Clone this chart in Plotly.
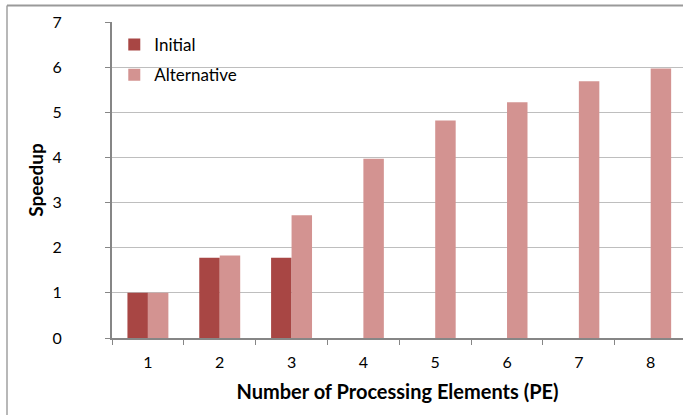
import plotly.graph_objects as go

categories = ["1", "2", "3", "4", "5", "6", "7", "8"]
initial = [1.0, 1.78, 1.78, None, None, None, None, None]
alternative = [1.0, 1.83, 2.72, 3.97, 4.82, 5.22, 5.69, 5.97]
y_ticks = [0, 1, 2, 3, 4, 5, 6, 7]

FONT = "Lato"
W, H = 683, 415
L, R, T, B = 112, 0, 22, 77

fig = go.Figure()
fig.add_trace(go.Bar(x=categories, y=initial, name="Initial",
                     marker=dict(color="#A84644", line=dict(width=0)),
                     legendgroup="a"))
fig.add_trace(go.Bar(x=categories, y=alternative, name="Alternative",
                     marker=dict(color="#D39391", line=dict(width=0)),
                     legendgroup="b"))

pw = W - L - R
ph = H - T - B
fig.update_layout(
    width=W, height=H,
    margin=dict(l=L, r=R, t=T, b=B, pad=0, autoexpand=False),
    paper_bgcolor="white", plot_bgcolor="white",
    font=dict(family=FONT, size=16, color="#000000"),
    barmode="group", bargap=0.43, bargroupgap=0,
    showlegend=True,
    legend=dict(x=0.004, y=0.984, xanchor="left", yanchor="top",
                font=dict(size=17, family=FONT), bgcolor="rgba(0,0,0,0)",
                traceorder="grouped", tracegroupgap=5,
                itemwidth=30),
    xaxis=dict(type="category", range=[-0.5, 7.45], automargin=False,
               showline=True, linecolor="#868686", linewidth=2,
               ticks="outside", tickson="boundaries", ticklen=5,
               tickcolor="#868686", tickwidth=1, ticklabelstandoff=9,
               showgrid=False, tickfont=dict(size=16),
               title=dict(text="<b>Number of Processing Elements (PE)</b>",
                          font=dict(size=20), standoff=15)),
    yaxis=dict(range=[0, 7], tickvals=y_ticks, automargin=False,
               showline=True, linecolor="#868686", linewidth=2,
               ticks="outside", ticklen=5, tickcolor="#868686",
               ticklabelstandoff=40,
               showgrid=True, gridcolor="#BEBEBE", gridwidth=1,
               zeroline=False, tickfont=dict(size=16),
               title=dict(text="<b>Speedup</b>", font=dict(size=19), standoff=4)),
)

# outer chart border (cropped chart frame)
x_left = (7 - L) / pw
y_top = 1 + (T - 5.5) / ph
y_bot = 1 - (H + 5 - T) / ph
fig.add_shape(type="line", xref="paper", yref="paper",
              x0=x_left, x1=x_left, y0=y_bot, y1=y_top,
              line=dict(color="#A0A0A0", width=1.5))
fig.add_shape(type="line", xref="paper", yref="paper",
              x0=x_left, x1=1.0, y0=y_top, y1=y_top,
              line=dict(color="#9A9A9A", width=2))

fig.write_html("out.html", config={"displayModeBar": False},
               post_script="document.body.style.margin='0';document.body.style.overflow='hidden';")
